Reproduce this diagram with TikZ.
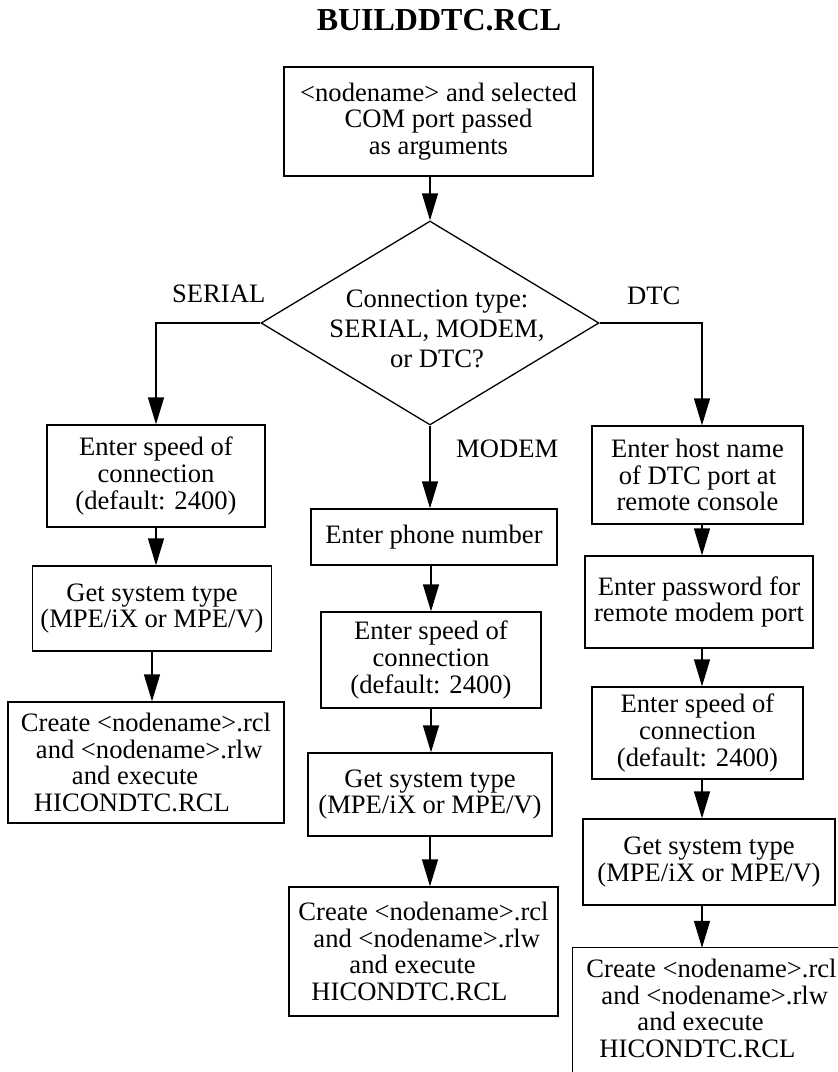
\documentclass[tikz,border=0pt]{standalone}
\usepackage{fontspec}
\setmainfont{Liberation Serif}
\usetikzlibrary{arrows.meta,shapes.geometric,calc}
% four-line text of the "create files" steps
\newcommand\mkcreate{Create <nodename>.rcl\\\hspace*{15pt}and <nodename>.rlw\\\hspace*{51pt}and execute\\\hspace*{13pt}HICONDTC.RCL}
\begin{document}
\begin{tikzpicture}[x=1pt,y=-1pt,
  every node/.style={font=\fontsize{26.6}{26.6}\selectfont},
  box/.style={draw, line width=1.3pt, inner sep=0pt, align=center},
  flow/.style={line width=1.3pt, -{Triangle[length=27pt,width=16pt]}},
  lbl/.style={anchor=base west, inner sep=0pt}]
\useasboundingbox (0,0) rectangle (838,1072);
\clip (0,0) rectangle (838,1072);

% title
\node[anchor=base, inner sep=0pt, font=\bfseries\fontsize{32}{32}\selectfont] (title) at (439,30) {BUILDDTC.RCL};

% start and decision
\node[box, minimum width=309pt, minimum height=109pt] (T) at (438.5,121.5)
  {<nodename> and selected\\COM port passed\\as arguments};
\node[draw, diamond, line width=1.3pt, minimum width=338pt, minimum height=204pt, inner sep=0pt] (D) at (430,323) {};
\node[align=center, inner sep=0pt, font=\fontsize{26.6}{30}\selectfont] (Dtxt) at (437,329)
  {Connection type:\\SERIAL, MODEM,\\or DTC?};

% branch labels
\node[lbl] (lserial) at (172,302) {SERIAL};
\node[lbl] (ldtc) at (627,304) {DTC};
\node[lbl] (lmodem) at (456,457) {MODEM};

% SERIAL branch
\node[box, minimum width=218pt, minimum height=102pt] (S1) at (156,476)
  {Enter speed of\\connection\\(default: 2400)};
\node[box, minimum width=239pt, minimum height=85pt] (S2) at (152,608.5)
  {Get system type\\(MPE/iX or MPE/V)};
\node[box, align=left, minimum width=276pt, minimum height=121pt] (S3) at (146,762.5) {\mkcreate};

% MODEM branch
\node[box, minimum width=246pt, minimum height=56pt] (M1) at (434,537) {Enter phone number};
\node[box, minimum width=220pt, minimum height=96pt] (M2) at (431,660)
  {Enter speed of\\connection\\(default: 2400)};
\node[box, minimum width=244pt, minimum height=83pt] (M3) at (430,794.5)
  {Get system type\\(MPE/iX or MPE/V)};
\node[box, align=left, minimum width=269pt, minimum height=129pt] (M4) at (423.5,951.5) {\mkcreate};

% DTC branch
\coordinate (dcol) at (702,0);
\node[box, minimum width=211pt, minimum height=98pt] (R1) at (697.5,475)
  {Enter host name\\of DTC port at\\remote console};
\node[box, minimum width=228pt, minimum height=92pt] (R2) at (699,602)
  {Enter password for\\remote modem port};
\node[box, minimum width=211pt, minimum height=92pt] (R3) at (697.5,733)
  {Enter speed of\\connection\\(default: 2400)};
\node[box, minimum width=252pt, minimum height=86pt] (R4) at (709,862)
  {Get system type\\(MPE/iX or MPE/V)};
\node[inner sep=0pt, align=left, minimum width=277pt, minimum height=121pt] (R5) at (711.5,1008.5) {\mkcreate};
\draw[line width=1.3pt] ([yshift=-30pt]R5.south west) -- (R5.north west) -- (R5.north east) -- ([yshift=-30pt]R5.south east);

% connectors
\draw[flow] (T.south -| D.north) -- (D.north);
\draw[flow] (D.west) -| (S1.north);
\draw[flow] (D.east) -| (R1.north -| dcol);
\draw[flow] (D.south) -- (D.south |- M1.north);

\draw[flow] (S1.south) -- (S1.south |- S2.north);
\draw[flow] (S2.south) -- (S2.south |- S3.north);

\draw[flow] (M2.north |- M1.south) -- (M2.north);
\draw[flow] (M2.south) -- (M2.south |- M3.north);
\draw[flow] (M3.south) -- (M3.south |- M4.north);

\draw[flow] (R1.south -| dcol) -- (R2.north -| dcol);
\draw[flow] (R2.south -| dcol) -- (R3.north -| dcol);
\draw[flow] (R3.south -| dcol) -- (R4.north -| dcol);
\draw[flow] (R4.south -| dcol) -- (R5.north -| dcol);
\end{tikzpicture}
\end{document}
